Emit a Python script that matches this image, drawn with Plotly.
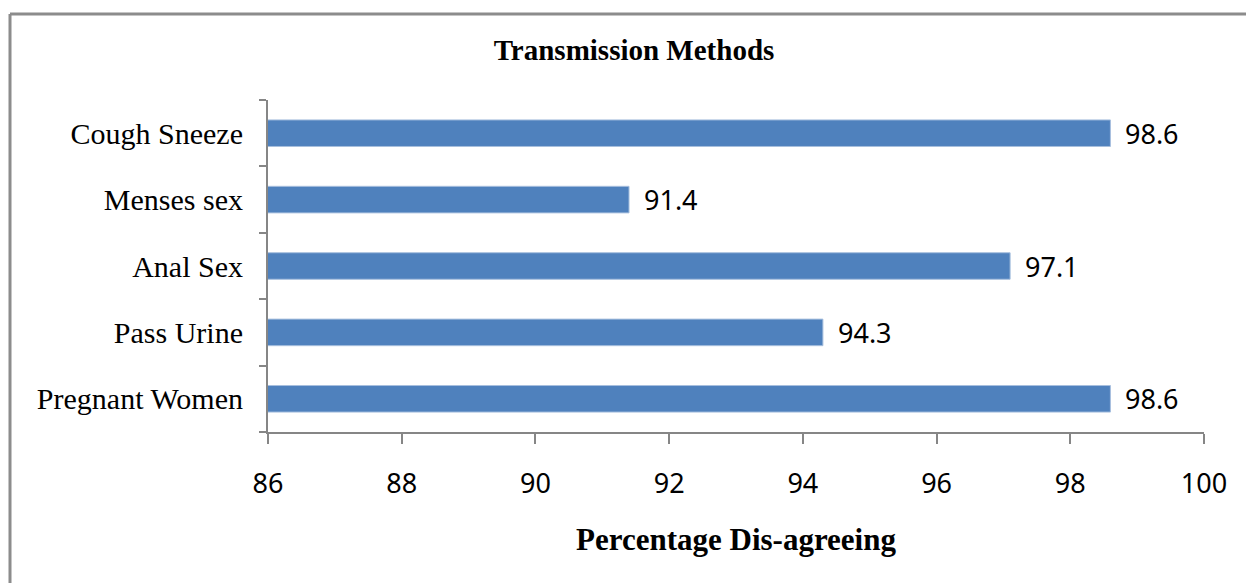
import plotly.graph_objects as go

# Survey results: share of respondents disagreeing with each transmission route
categories = ["Pregnant Women", "Pass Urine", "Anal Sex", "Menses sex", "Cough Sneeze"]
values = [98.6, 94.3, 97.1, 91.4, 98.6]
x_ticks = [86, 88, 90, 92, 94, 96, 98, 100]

W, H = 1246, 583
L, R, T, B = 268, 1204, 100, 432  # plot area in pixels

def px_x(p):
    return (p - L) / (R - L)

def px_y(p):
    return (B - p) / (B - T)

fig = go.Figure(
    go.Bar(
        y=categories,
        x=values,
        orientation="h",
        width=0.4,
        marker=dict(color="#4F81BD", line=dict(color="#A7BFDE", width=1)),
        cliponaxis=False,
    )
)

# value labels to the right of each bar
for cat, v in zip(categories, values):
    fig.add_annotation(
        x=v, y=cat, xref="x", yref="y",
        text=f"{v:.1f}", showarrow=False,
        xanchor="left", yanchor="middle", xshift=13,
        font=dict(family="Noto Sans", size=27, color="#000000"),
    )

axis_grey = "#868686"

fig.update_layout(
    width=W,
    height=H,
    margin=dict(l=L, r=W - R, t=T, b=H - B),
    paper_bgcolor="white",
    plot_bgcolor="white",
    showlegend=False,
    title=dict(
        text="<b>Transmission Methods</b>",
        x=634 / W,
        xanchor="center",
        y=1 - 50 / H,
        yanchor="middle",
        font=dict(family="Liberation Serif", size=29, color="#000000"),
    ),
    xaxis=dict(
        range=[86, 100],
        tickvals=x_ticks,
        ticktext=[str(t) for t in x_ticks],
        showgrid=False,
        zeroline=False,
        showline=True,
        linecolor=axis_grey,
        linewidth=2,
        ticks="outside",
        ticklen=10,
        tickwidth=2,
        tickcolor=axis_grey,
        ticklabelstandoff=17,
        tickfont=dict(family="Noto Sans", size=27, color="#000000"),
        title=dict(
            text="<b>Percentage Dis-agreeing</b>",
            font=dict(family="Liberation Serif", size=31, color="#000000"),
            standoff=28,
        ),
    ),
    yaxis=dict(
        type="category",
        categoryorder="array",
        categoryarray=categories,
        range=[-0.5, 4.5],
        showgrid=False,
        zeroline=False,
        showline=True,
        linecolor=axis_grey,
        linewidth=2,
        ticks="outside",
        tickson="boundaries",
        ticklen=7,
        tickwidth=2,
        tickcolor=axis_grey,
        ticklabelstandoff=17,
        tickfont=dict(family="Liberation Serif", size=30, color="#000000"),
    ),
    shapes=[
        # chart frame: top and left edges
        dict(type="line", xref="paper", yref="paper",
             x0=px_x(10), x1=px_x(W + 5), y0=px_y(14), y1=px_y(14),
             line=dict(color="#8C8C8C", width=3)),
        dict(type="line", xref="paper", yref="paper",
             x0=px_x(10), x1=px_x(10), y0=px_y(14), y1=px_y(H + 5),
             line=dict(color="#8C8C8C", width=3)),
    ],
)

fig.write_html("out.html")
